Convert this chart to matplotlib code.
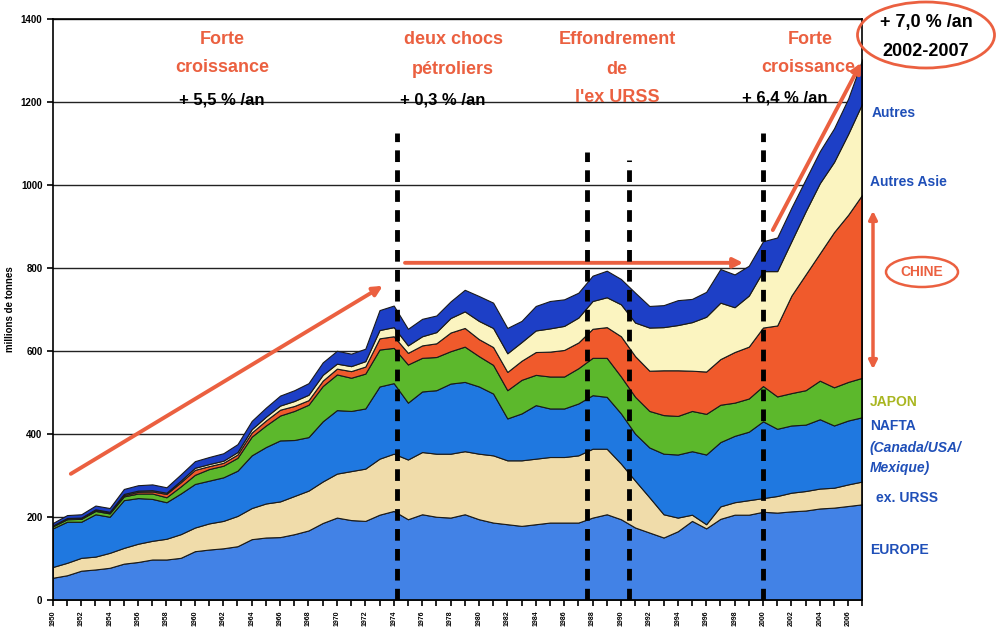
import matplotlib
matplotlib.use('Agg')
import matplotlib.pyplot as plt
from matplotlib.patches import Ellipse

plt.rcParams['font.family'] = ['Liberation Sans', 'DejaVu Sans']
plt.rcParams['font.weight'] = 'bold'

# Production d'acier par région (millions de tonnes), 1950-2007
years = list(range(1950, 2008))
europe = [53, 59, 70, 73, 77, 87, 91, 97, 97, 101,
          117, 121, 124, 129, 146, 150, 151, 158, 167, 185,
          198, 192, 190, 205, 214, 194, 206, 200, 198, 206,
          194, 186, 182, 178, 182, 186, 186, 186, 198, 206,
          194, 174, 162, 150, 165, 190, 172, 195, 205, 205,
          212, 210, 213, 215, 220, 222, 226, 230]
urss = [26, 30, 31, 31, 36, 38, 44, 45, 50, 57,
        57, 63, 66, 73, 75, 82, 86, 92, 96, 100,
        106, 118, 126, 135, 138, 144, 150, 152, 154, 152,
        158, 162, 154, 158, 158, 158, 158, 162, 166, 158,
        134, 113, 85, 56, 33, 15, 10, 30, 30, 35,
        33, 40, 45, 47, 48, 48, 52, 55]
nafta = [93, 99, 87, 102, 87, 115, 110, 101, 88, 98,
         105, 103, 105, 109, 127, 136, 147, 135, 129, 145,
         153, 145, 145, 174, 170, 137, 146, 153, 169, 167,
         162, 149, 101, 113, 129, 117, 117, 125, 129, 125,
         121, 113, 120, 146, 152, 153, 168, 155, 160, 165,
         185, 162, 162, 160, 167, 150, 154, 155]
japon = [5, 6, 7, 8, 8, 9, 11, 13, 12, 17,
         22, 28, 28, 31, 45, 52, 60, 70, 78, 85,
         86, 80, 84, 89, 85, 92, 81, 80, 78, 85,
         73, 69, 68, 81, 73, 77, 77, 85, 90, 94,
         89, 89, 88, 93, 93, 97, 98, 90, 80, 80,
         85, 78, 78, 83, 93, 92, 93, 95]
chine = [1, 1, 1, 2, 2, 3, 4, 5, 8, 10,
         12, 7, 7, 8, 10, 12, 14, 12, 11, 13,
         14, 16, 17, 27, 28, 28, 30, 33, 45, 45,
         41, 43, 44, 46, 55, 60, 64, 62, 70, 74,
         97, 98, 97, 108, 110, 97, 102, 110, 122, 125,
         141, 171, 235, 279, 307, 374, 403, 442]
autres_asie = [1, 2, 2, 2, 2, 3, 3, 3, 3, 4,
               5, 5, 5, 6, 8, 9, 10, 12, 13, 14,
               12, 12, 13, 20, 22, 18, 22, 27, 35, 40,
               44, 46, 45, 45, 52, 56, 58, 60, 67, 72,
               77, 81, 104, 104, 109, 117, 132, 136, 108, 123,
               136, 131, 131, 152, 169, 169, 195, 220]
autres = [6, 7, 8, 9, 9, 12, 13, 14, 13, 15,
          16, 17, 18, 19, 20, 22, 24, 26, 28, 30,
          31, 30, 30, 48, 52, 40, 42, 40, 40, 52,
          60, 61, 61, 51, 59, 66, 64, 60, 61, 64,
          61, 72, 52, 53, 60, 56, 60, 81, 79, 72,
          72, 81, 81, 77, 77, 81, 85, 106]

colors = ['#4282e6', '#f0dcaa', '#1f78e0', '#5cb82c', '#f05a2c', '#fbf4c0', '#1d3fc6']
rouge = '#eb6040'
bleu = '#1f4fb8'

fig = plt.figure(figsize=(9.97, 6.28), dpi=100)
ax = fig.add_axes([0.053, 0.045, 0.812, 0.925])

ax.set_axisbelow(True)
ax.grid(axis='y', color='#222222', linewidth=1.0)
ax.stackplot(years, europe, urss, nafta, japon, chine, autres_asie, autres,
             colors=colors, edgecolor='#1a1a1a', linewidth=0.8)

ax.set_xlim(1950, 2007)
ax.set_ylim(0, 1400)
ax.set_yticks(range(0, 1401, 200))
ax.set_xticks(range(1950, 2007, 2))
ax.set_xticks(range(1950, 2008), minor=True)
ax.tick_params(axis='x', labelsize=5, rotation=90, length=4, width=1.2, direction='out')
ax.tick_params(axis='x', which='minor', length=4, width=1.2)
ax.tick_params(axis='y', labelsize=7, length=4, width=1.2)
ax.set_ylabel('millions de tonnes', fontsize=7, fontweight='bold')
for s in ['left', 'bottom', 'right', 'top']:
    ax.spines[s].set_linewidth(1.2)

# lignes de rupture
for x, top in [(1974.2, 1125), (1987.6, 1080), (1990.6, 1060), (2000.0, 1125)]:
    ax.plot([x, x], [0, top], color='black', linewidth=3.5,
            linestyle=(0, (2.4, 1.7)), zorder=5)

# fleches de tendance
arrow = dict(arrowstyle='-|>', color=rouge, linewidth=2.8, mutation_scale=14)
ax.annotate('', xy=(1973.4, 760), xytext=(1951.1, 300), arrowprops=arrow)
ax.annotate('', xy=(1998.8, 812), xytext=(1974.6, 812), arrowprops=arrow)
ax.annotate('', xy=(2007.0, 1300), xytext=(2000.6, 885), arrowprops=arrow,
            annotation_clip=False)

def ftext(x, y, s, **kw):
    fig.text(x / 997, 1 - y / 628, s, ha='center', va='center', fontweight='bold', **kw)

ftext(222, 40, 'Forte', color=rouge, fontsize=13)
ftext(222, 68, 'croissance', color=rouge, fontsize=13)
ftext(222, 100, '+ 5,5 % /an', color='black', fontsize=12)
ftext(453, 40, 'deux chocs', color=rouge, fontsize=13)
ftext(453, 70, 'pétroliers', color=rouge, fontsize=13)
ftext(443, 100, '+ 0,3 % /an', color='black', fontsize=12)
ftext(617, 40, 'Effondrement', color=rouge, fontsize=13)
ftext(617, 70, 'de', color=rouge, fontsize=13)
ftext(617, 97, "l'ex URSS", color=rouge, fontsize=13)
ftext(810, 40, 'Forte', color=rouge, fontsize=13)
ftext(808, 68, 'croissance', color=rouge, fontsize=13)
ftext(785, 98, '+ 6,4 % /an', color='black', fontsize=12)
ftext(926, 22, '+ 7,0 % /an', color='black', fontsize=13)
ftext(926, 51, '2002-2007', color='black', fontsize=13)

fig.patches.append(Ellipse((926 / 997, 1 - 35 / 628), 137 / 997, 66 / 628,
                           transform=fig.transFigure, fill=False, edgecolor=rouge, linewidth=2))
fig.patches.append(Ellipse((922 / 997, 1 - 272 / 628), 72 / 997, 30 / 628,
                           transform=fig.transFigure, fill=False, edgecolor=rouge, linewidth=1.8))
ftext(922, 272, 'CHINE', color=rouge, fontsize=10)

def ltext(x, y, s, **kw):
    fig.text(x / 997, 1 - y / 628, s, ha='left', va='center', fontweight='bold', **kw)

ltext(872, 113, 'Autres', color=bleu, fontsize=10)
ltext(870, 182, 'Autres Asie', color=bleu, fontsize=10)
ltext(870, 402, 'JAPON', color='#a9b620', fontsize=10)
ltext(870, 426, 'NAFTA', color=bleu, fontsize=10)
ltext(870, 448, '(Canada/USA/', color=bleu, fontsize=10, style='italic')
ltext(870, 468, 'Mexique)', color=bleu, fontsize=10, style='italic')
ltext(876, 498, 'ex. URSS', color=bleu, fontsize=10)
ltext(870, 550, 'EUROPE', color=bleu, fontsize=10)

fig.patches.append(matplotlib.patches.FancyArrowPatch(
    (873 / 997, 1 - 372 / 628), (873 / 997, 1 - 208 / 628), transform=fig.transFigure,
    arrowstyle='<|-|>', color=rouge, linewidth=2.5, mutation_scale=12))

fig.savefig('out.png', dpi=100)
